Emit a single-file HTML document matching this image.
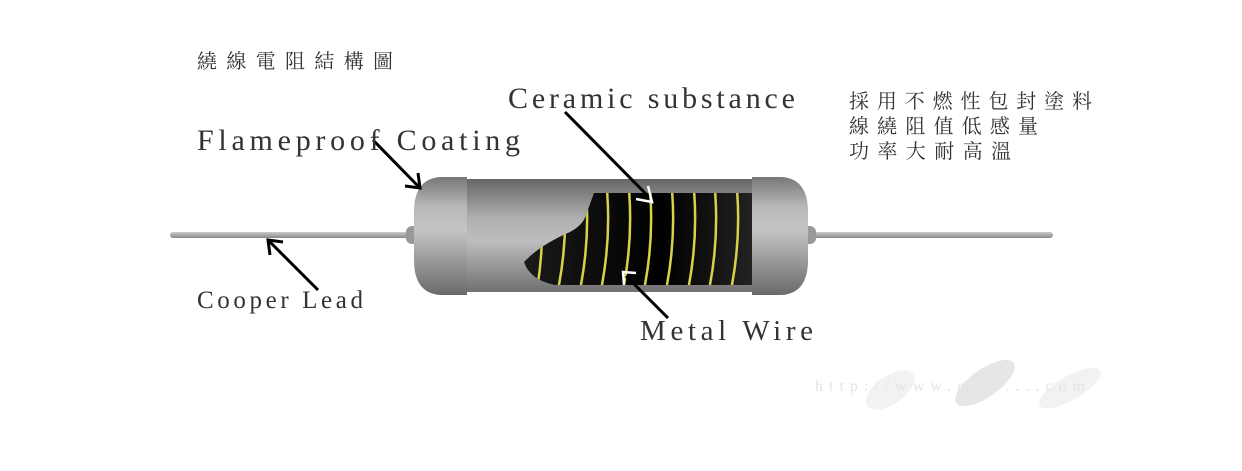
<!DOCTYPE html>
<html><head><meta charset="utf-8"><style>
html,body{margin:0;padding:0;background:#fff;width:1242px;height:471px;overflow:hidden}
svg{display:block}
.m{font-family:"Liberation Serif",serif;fill:#333}
.c{font-family:"Liberation Serif","Noto Serif CJK SC","Noto Sans CJK TC",serif;fill:#333;font-size:20px}
</style></head><body>
<svg width="1242" height="471" viewBox="0 0 1242 471" xmlns="http://www.w3.org/2000/svg">
<defs>
<linearGradient id="cap" x1="0" y1="0" x2="0" y2="1">
<stop offset="0" stop-color="#777"/><stop offset="0.25" stop-color="#b8b8b8"/><stop offset="0.45" stop-color="#c4c4c4"/><stop offset="1" stop-color="#6a6a6a"/>
</linearGradient>
<linearGradient id="body" x1="0" y1="0" x2="0" y2="1">
<stop offset="0" stop-color="#666"/><stop offset="0.35" stop-color="#b0b0b0"/><stop offset="0.55" stop-color="#bdbdbd"/><stop offset="1" stop-color="#707070"/>
</linearGradient>
<linearGradient id="lead" x1="0" y1="0" x2="0" y2="1">
<stop offset="0" stop-color="#ccc"/><stop offset="0.5" stop-color="#aaa"/><stop offset="1" stop-color="#888"/>
</linearGradient>
<linearGradient id="core" x1="0" y1="0" x2="1" y2="0">
<stop offset="0" stop-color="#1a1a1a"/><stop offset="0.6" stop-color="#000"/><stop offset="1" stop-color="#222"/>
</linearGradient>
<clipPath id="cl"><path d="M594,193 L752,193 L752,285 L555,285 Q530,280 524,262 Q540,245 570,232 Q583,225 586,215 Z"/></clipPath>
</defs>
<rect x="170" y="232" width="250" height="6" rx="3" fill="url(#lead)"/>
<rect x="805" y="232" width="248" height="6" rx="3" fill="url(#lead)"/>
<rect x="406" y="226" width="14" height="18" rx="6" fill="#999"/>
<rect x="802" y="226" width="14" height="18" rx="6" fill="#999"/>
<rect x="460" y="179" width="300" height="113" fill="url(#body)"/>
<path d="M594,193 L752,193 L752,285 L555,285 Q530,280 524,262 Q540,245 570,232 Q583,225 586,215 Z" fill="url(#core)"/>
<g clip-path="url(#cl)" stroke="#d8d24a" stroke-width="2.5" fill="none">
<path d="M537,290 Q545,240 541,190"/>
<path d="M558,290 Q568,240 564,190"/>
<path d="M580,290 Q590,240 586,190"/>
<path d="M601,290 Q611,240 607,190"/>
<path d="M623,290 Q633,240 629,190"/>
<path d="M644,290 Q654,240 650,190"/>
<path d="M666,290 Q676,240 672,190"/>
<path d="M688,290 Q698,240 694,190"/>
<path d="M709,290 Q719,240 715,190"/>
<path d="M731,290 Q741,240 737,190"/>
</g>
<path d="M440,177 L467,177 L467,295 L440,295 Q414,293 414,260 L414,212 Q414,179 440,177 Z" fill="url(#cap)"/>
<path d="M752,177 L782,177 Q808,179 808,212 L808,260 Q808,293 782,295 L752,295 Z" fill="url(#cap)"/>
<g stroke="#000" stroke-width="3" fill="none">
<line x1="373" y1="140" x2="418" y2="186"/>
<polyline points="405,186 420,188 418,173"/>
<line x1="565" y1="112" x2="648" y2="196"/>
<line x1="318" y1="290" x2="270" y2="242"/>
<polyline points="270,255 268,240 283,242"/>
<line x1="668" y1="318" x2="626" y2="276"/>
</g>
<g stroke="#fff" stroke-width="2.5" fill="none">
<polyline points="636,199 652,202 648,186"/>
<polyline points="624,285 623,272 636,273"/>
</g>
<text class="c" x="197" y="68" textLength="196" lengthAdjust="spacing">繞線電阻結構圖</text>
<text class="m" x="508" y="108" font-size="30" textLength="287" lengthAdjust="spacing">Ceramic substance</text>
<text class="m" x="197" y="150" font-size="30" textLength="323" lengthAdjust="spacing">Flameproof Coating</text>
<text class="m" x="197" y="308" font-size="25" textLength="166" lengthAdjust="spacing">Cooper Lead</text>
<text class="m" x="640" y="340" font-size="29" textLength="173" lengthAdjust="spacing">Metal Wire</text>
<text class="c" x="849" y="108" textLength="243" lengthAdjust="spacing">採用不燃性包封塗料</text>
<text class="c" x="849" y="133" textLength="189" lengthAdjust="spacing">線繞阻值低感量</text>
<text class="c" x="849" y="158" textLength="162" lengthAdjust="spacing">功率大耐高溫</text>
<g fill="#f2f2f2">
<ellipse cx="890" cy="390" rx="28" ry="14" transform="rotate(-35 890 390)"/>
<ellipse cx="985" cy="383" rx="35" ry="14" fill="#e6e6e6" transform="rotate(-35 985 383)"/>
<ellipse cx="1070" cy="388" rx="35" ry="12" transform="rotate(-30 1070 388)"/>
</g>
<text x="815" y="391" font-family="Liberation Serif,serif" font-size="16" fill="#e4e4e4" textLength="270" lengthAdjust="spacing">http://www.m.......com</text>
</svg>
</body></html>
